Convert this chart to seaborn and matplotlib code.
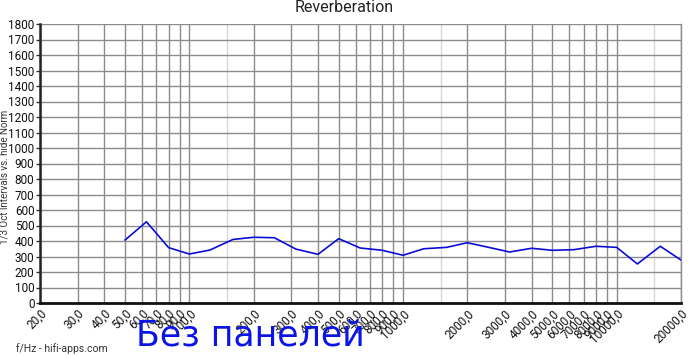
import matplotlib
matplotlib.use("Agg")
import matplotlib.pyplot as plt
import seaborn as sns
import pandas as pd

# Data
freqs = [50, 63, 80, 100, 125, 160, 200, 250, 315, 400, 500, 630, 800, 1000,
         1250, 1600, 2000, 2500, 3150, 4000, 5000, 6300, 8000, 10000, 12500, 16000, 20000]
values = [406, 524, 357, 316, 342, 410, 424, 421, 348, 314, 415, 355, 340, 308,
          350, 359, 389, 360, 329, 353, 340, 344, 366, 359, 252, 366, 277]

x_ticks = [20, 30, 40, 50, 60, 70, 80, 90, 100, 200, 300, 400, 500, 600, 700, 800, 900,
           1000, 2000, 3000, 4000, 5000, 6000, 7000, 8000, 9000, 10000, 20000]
x_tick_labels = ["20,0", "30,0", "40,0", "50,0", "60,0", "70,0", "80,0", "90,0", "100,0",
                 "200,0", "300,0", "400,0", "500,0", "600,0", "700,0", "800,0", "900,0",
                 "1000,0", "2000,0", "3000,0", "4000,0", "5000,0", "6000,0", "7000,0",
                 "8000,0", "9000,0", "10000,0", "20000,0"]
x_light_grid = [150, 1500, 15000]
y_ticks = list(range(0, 1900, 100))

title = "Reverberation"
y_label = "1/3 Oct Intervals vs. hide Norm"
footer = "f/Hz - hifi-apps.com"
note = "Без панелей"

sns.set_theme(style="white")
plt.rcParams["font.family"] = ["Roboto", "DejaVu Sans"]

W, H = 690, 356
fig = plt.figure(figsize=(W / 100, H / 100), dpi=100)
ax = fig.add_axes([40 / W, (H - 303) / H, (681 - 40) / W, (303 - 24) / H])

df = pd.DataFrame({"f": freqs, "v": values})
sns.lineplot(data=df, x="f", y="v", ax=ax, color="#0c0cd8", linewidth=1.2, zorder=5)

ax.set_xscale("log")
ax.set_xlim(20, 20000)
ax.set_ylim(0, 1800)

for xv in x_ticks:
    ax.axvline(xv, color="#8c8c8c", linewidth=1.0, zorder=1)
for xv in x_light_grid:
    ax.axvline(xv, color="#d8d8d8", linewidth=1.0, zorder=1)
for yv in y_ticks:
    ax.axhline(yv, color="#8c8c8c", linewidth=1.0, zorder=1)

ax.set_xticks(x_ticks)
ax.set_xticklabels(x_tick_labels, rotation=45, ha="right", va="top",
                   rotation_mode="anchor", fontsize=8.5, color="#111111")
ax.xaxis.set_minor_locator(matplotlib.ticker.NullLocator())
ax.set_yticks(y_ticks)
ax.set_yticklabels([str(v) for v in y_ticks], fontsize=8.5, color="#111111")
ax.tick_params(axis="x", length=0, pad=3)
ax.tick_params(axis="y", length=3, width=1, color="#333333", pad=1, left=True)

ax.spines["top"].set_visible(False)
ax.spines["right"].set_color("#8c8c8c")
ax.spines["right"].set_linewidth(1.0)
ax.spines["left"].set_color("#222222")
ax.spines["left"].set_linewidth(1.8)
ax.spines["bottom"].set_color("#111111")
ax.spines["bottom"].set_linewidth(2.0)

ax.set_xlabel("")
ax.set_ylabel("")

fig.text(344 / W, 1 - 7 / H, title, ha="center", va="center", fontsize=11.5, color="#222222")
fig.text(5 / W, 1 - 177 / H, y_label, rotation=90, ha="center", va="center",
         fontsize=7, color="#333333")
fig.text(16 / W, 1 - 349 / H, footer, ha="left", va="center", fontsize=7.5, color="#333333")
fig.text(136 / W, 1 - 335 / H, note, ha="left", va="center", fontsize=25,
         color="#0a14e6", family=["DejaVu Sans"])

fig.savefig("out.png", dpi=100)
